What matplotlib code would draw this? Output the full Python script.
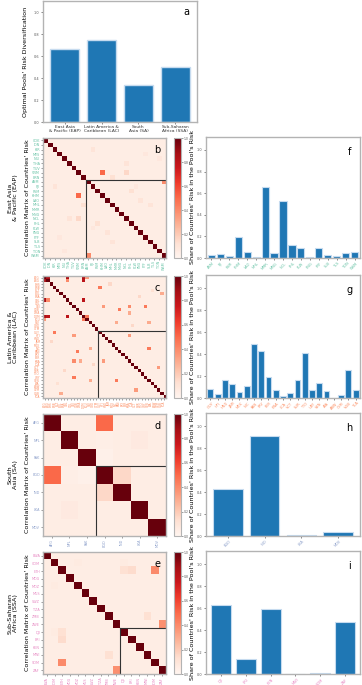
import numpy as np
import matplotlib
matplotlib.use('Agg')
import matplotlib.pyplot as plt

# ---------------- data ----------------
regions = ["East Asia\n& Pacific (EAP)", "Latin America &\nCaribbean (LAC)",
           "South\nAsia (SA)", "Sub-Saharan\nAfrica (SSA)"]
diversification = [0.66, 0.75, 0.34, 0.50]

eap_countries = ["COK", "IDN", "KIR", "MYS", "NIU", "THA", "TUV", "VNM", "BRN",
                 "ASM", "FJI", "FSM", "KHM", "LAO", "MHL", "MMR", "MNG", "NCL",
                 "PHL", "PLW", "PNG", "PYF", "SLB", "TLS", "TON", "WSM"]
eap_pool_start = 9
eap_shares = [0.03, 0.035, 0.02, 0.19, 0.06, 0.01, 0.66, 0.05, 0.53, 0.12,
              0.09, 0.01, 0.09, 0.03, 0.02, 0.05, 0.06]
eap_pairs = [(7, 12, 0.50), (9, 25, 0.40), (2, 10, 0.10), (8, 14, 0.12),
             (5, 17, 0.10), (7, 17, 0.15), (3, 21, 0.08), (11, 18, 0.12),
             (14, 22, 0.10), (10, 19, 0.08), (4, 24, 0.08), (13, 20, 0.10)]

lac_countries = ["ATG", "ARG", "BHS", "BRB", "BLZ", "BOL", "BRA", "CHL", "COL",
                 "CRI", "CUB", "DMA", "DOM", "ECU", "SLV", "GRD", "GTM",
                 "GUY", "HTI", "HND", "JAM", "MEX", "NIC", "PAN", "PRY", "PER",
                 "KNA", "LCA", "VCT", "SUR", "TTO", "URY", "VEN", "AIA", "ABW",
                 "CYM", "VGB", "TCA"]
lac_pool_start = 17
lac_shares = [0.08, 0.04, 0.165, 0.125, 0.055, 0.105, 0.49, 0.425, 0.19, 0.075,
              0.015, 0.045, 0.165, 0.41, 0.075, 0.14, 0.06, 0.0, 0.03, 0.255, 0.075]
lac_pairs = [(0, 1, 0.85), (0, 7, 0.85), (0, 12, 0.85), (1, 12, 0.80), (7, 12, 0.80),
             (1, 7, 0.40), (0, 13, 0.35), (12, 13, 0.45), (3, 17, 0.45),
             (10, 23, 0.45), (9, 26, 0.40), (9, 31, 0.45), (9, 18, 0.35),
             (18, 26, 0.35), (22, 32, 0.45), (14, 22, 0.30),
             (11, 26, 0.30), (14, 32, 0.30), (28, 35, 0.35), (5, 36, 0.30),
             (2, 20, 0.15), (6, 29, 0.15), (15, 27, 0.15), (4, 33, 0.12)]

sa_countries = ["AFG", "NPL", "PAK", "BGD", "IND", "LKA", "MDV"]
sa_pool_start = 3
sa_shares = [0.43, 0.91, 0.01, 0.035]
sa_pairs = [(0, 3, 0.50), (3, 4, 0.15), (1, 4, 0.05), (1, 5, 0.07),
            (4, 6, 0.05), (1, 3, 0.04), (2, 3, 0.03)]

ssa_countries = ["BWA", "COM", "ETH", "MDG", "MOZ", "MUS", "SWZ", "TZA", "ZMB",
                 "ZWE", "DJI", "ERI", "KEN", "MWI", "SOM", "ZAF"]
ssa_pool_start = 10
ssa_shares = [0.63, 0.135, 0.59, 0.0, 0.005, 0.475]
ssa_pairs = [(2, 14, 0.40), (9, 15, 0.38), (2, 10, 0.12), (2, 11, 0.14),
             (8, 13, 0.12), (1, 4, 0.06), (3, 5, 0.05), (1, 10, 0.06)]

background = 0.05
tick_colors = ["#66c2a5", "#fc8d62", "#8da0cb", "#e78ac3"]
letters_heat = ["b", "c", "d", "e"]
letters_bar = ["f", "g", "h", "i"]

# ---------------- layout ----------------
W, H = 362, 685
fig = plt.figure(figsize=(W / 100, H / 100), dpi=100)
spine_c = "#b3b3b3"
LBL = 4.6


def ax_px(l, t, r, b):
    return fig.add_axes([l / W, 1 - b / H, (r - l) / W, (b - t) / H])


def style(ax):
    for s in ax.spines.values():
        s.set_color(spine_c)
        s.set_linewidth(1.0)
    ax.tick_params(colors="#555555", length=1.5, width=0.5, labelsize=2.5, pad=1)


bar_color = "#1f77b4"
edge_color = "#c6dbef"

# panel a
ax = ax_px(43, 1, 197, 122)
style(ax)
ax.bar(range(len(regions)), diversification, color=bar_color, edgecolor=edge_color,
       linewidth=1.0, width=0.8)
ax.set_ylim(0, 1.1)
ax.set_yticks(np.arange(0, 1.01, 0.2))
ax.set_xticks(range(len(regions)))
ax.set_xticklabels(regions, fontsize=3.2, linespacing=1.0)
ax.tick_params(axis='x', labelsize=3.2, labelcolor="#333333")
ax.set_ylabel("Optimal Pools' Risk Diversification", fontsize=LBL, labelpad=4)
ax.text(0.93, 0.91, "a", transform=ax.transAxes, fontsize=7, ha='center', va='center')

rows = [
    (eap_countries, eap_pool_start, eap_shares, eap_pairs, 138, 258),
    (lac_countries, lac_pool_start, lac_shares, lac_pairs, 276, 398),
    (sa_countries, sa_pool_start, sa_shares, sa_pairs, 414, 536),
    (ssa_countries, ssa_pool_start, ssa_shares, ssa_pairs, 552, 674),
]

for k, (countries, ps, shares, pairs, top, bot) in enumerate(rows):
    n = len(countries)
    M = np.full((n, n), background)
    for i, j, v in pairs:
        M[i, j] = v
        M[j, i] = v
    np.fill_diagonal(M, 1.0)

    ax = ax_px(43, top, 166, bot)
    style(ax)
    im = ax.imshow(M, cmap="Reds", vmin=0, vmax=1, aspect="auto",
                   interpolation="nearest")
    ax.set_xticks(range(n))
    ax.set_yticks(range(n))
    fs = 2.0 if n > 30 else 2.4
    ax.set_xticklabels(countries, rotation=90, fontsize=fs, color=tick_colors[k])
    ax.set_yticklabels(countries, fontsize=fs, color=tick_colors[k])
    ax.tick_params(length=1.2, width=0.4, pad=1)
    ax.plot([ps - 0.5, n - 0.5], [ps - 0.5, ps - 0.5], color="#333333", lw=0.8)
    ax.plot([ps - 0.5, ps - 0.5], [ps - 0.5, n - 0.5], color="#333333", lw=0.8)
    ax.set_xlim(-0.5, n - 0.5)
    ax.set_ylim(n - 0.5, -0.5)
    ax.set_ylabel("Correlation Matrix of Countries' Risk", fontsize=LBL, labelpad=3)
    ax.yaxis.set_label_coords(-0.105, 0.5)
    ax.text(0.93, 0.9, letters_heat[k], transform=ax.transAxes, fontsize=7,
            ha='center', va='center')
    fig.text(13 / W, 1 - (top + bot) / 2 / H, regions[k], rotation=90, fontsize=LBL,
             ha='center', va='center', linespacing=1.1)

    cax = ax_px(174, top, 181, bot)
    cb = fig.colorbar(im, cax=cax, ticks=np.arange(0, 1.01, 0.2))
    cb.outline.set_edgecolor(spine_c)
    cb.ax.tick_params(labelsize=2.2, length=1.2, width=0.4, pad=1, colors="#555555")

    bx = ax_px(206, top - 1, 360, bot)
    style(bx)
    pool = countries[ps:]
    bx.bar(range(len(pool)), shares, color=bar_color, edgecolor=edge_color,
           linewidth=0.8, width=0.8)
    bx.set_ylim(0, 1.12)
    bx.set_xlim(-0.6, len(pool) - 0.4)
    bx.set_yticks(np.arange(0, 1.01, 0.2))
    bx.set_xticks(range(len(pool)))
    bx.set_xticklabels(pool, rotation=45, fontsize=2.6, color=tick_colors[k])
    bx.set_ylabel("Share of Countries' Risk in the Pool's Risk", fontsize=LBL)
    bx.yaxis.set_label_coords(-0.07, 0.5)
    bx.text(0.93, 0.88, letters_bar[k], transform=bx.transAxes, fontsize=7,
            ha='center', va='center')

fig.savefig("out.png", dpi=100)
